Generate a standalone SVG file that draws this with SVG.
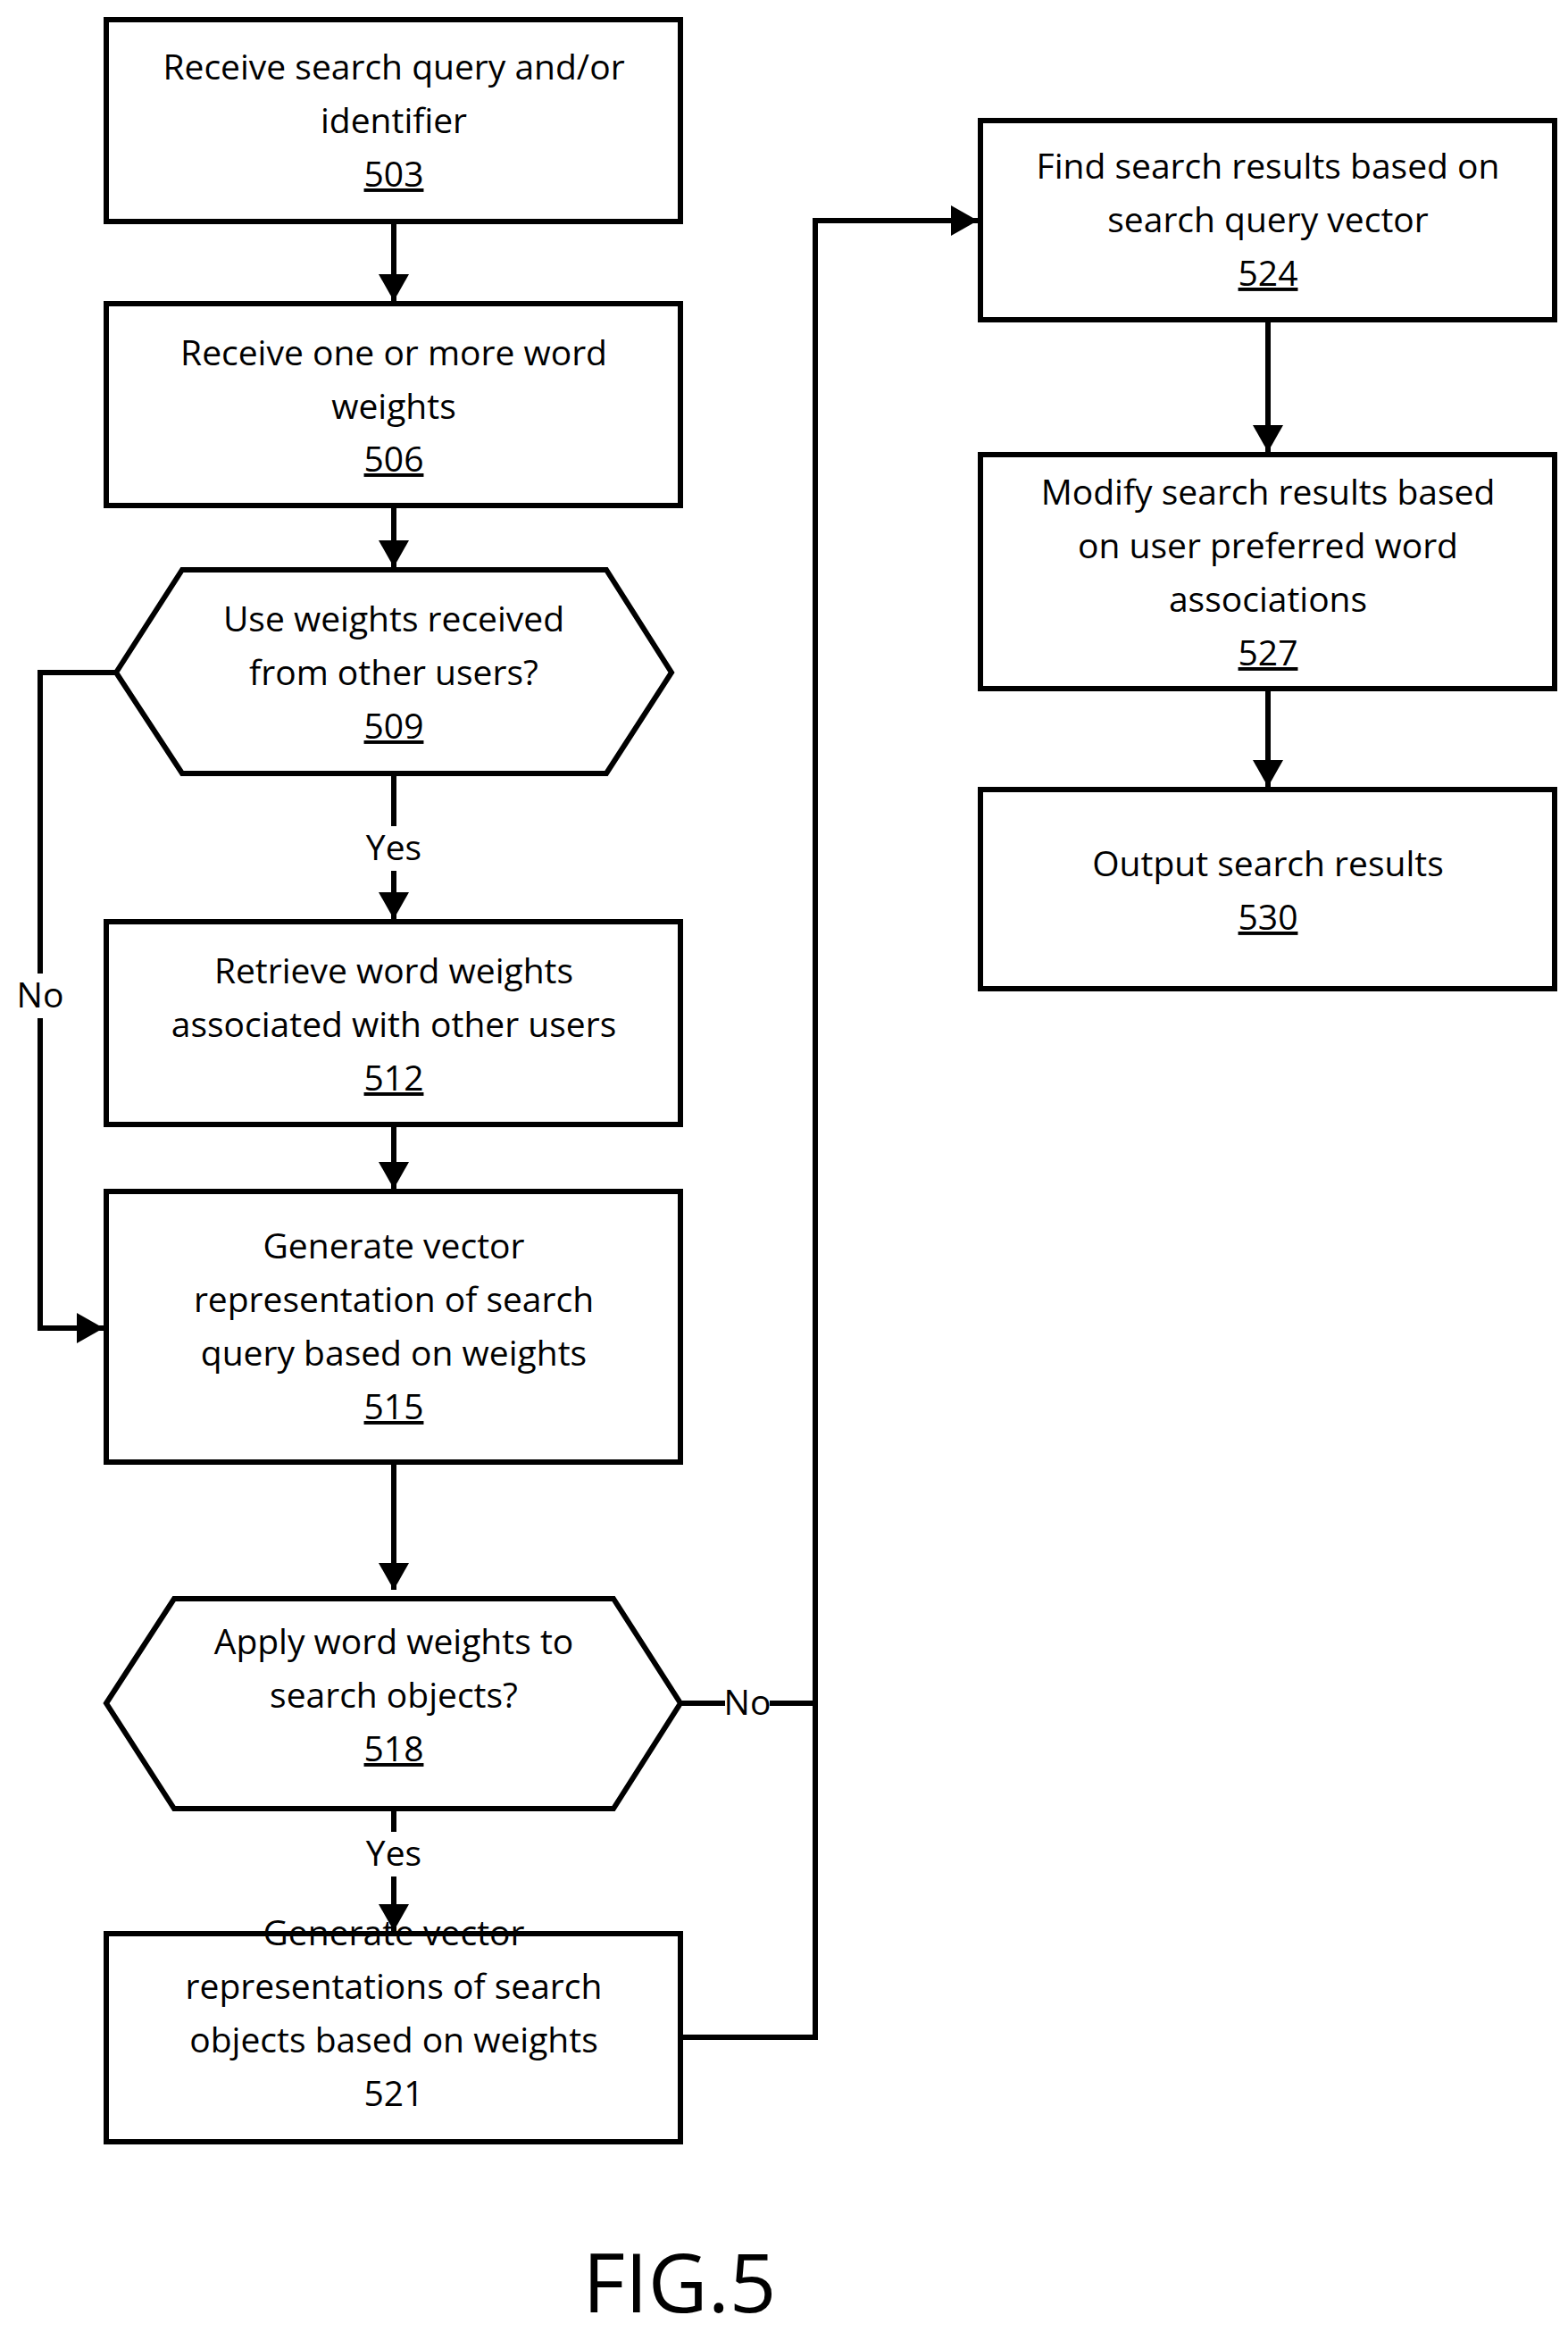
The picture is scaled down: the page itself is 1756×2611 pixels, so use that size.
<svg xmlns="http://www.w3.org/2000/svg" width="1756" height="2611" viewBox="0 0 1756 2611">
<style>
.n{fill:#fff;stroke:#000;stroke-width:6}
.c{fill:none;stroke:#000;stroke-width:6}
text{font-family:"Open Sans","Liberation Sans",sans-serif;font-size:39px;text-anchor:middle;fill:#000}
.u{text-decoration:underline}
.lb{fill:#fff;stroke:none}
</style>
<defs>
<marker id="a" markerUnits="userSpaceOnUse" markerWidth="34" markerHeight="34" viewBox="0 0 34 34" refX="30" refY="17" orient="auto">
<path d="M0,0 L30,17 L0,34 Z" fill="#000"/>
</marker>
</defs>
<rect width="1756" height="2611" fill="#fff"/>
<g id="connectors">
<line class="c" x1="441" y1="248" x2="441" y2="337" marker-end="url(#a)"/>
<line class="c" x1="441" y1="566" x2="441" y2="635" marker-end="url(#a)"/>
<line class="c" x1="441" y1="866" x2="441" y2="1029" marker-end="url(#a)"/>
<line class="c" x1="441" y1="1259" x2="441" y2="1331" marker-end="url(#a)"/>
<line class="c" x1="441" y1="1637" x2="441" y2="1780" marker-end="url(#a)"/>
<line class="c" x1="441" y1="2025" x2="441" y2="2162" marker-end="url(#a)"/>
<polyline class="c" points="130,753 45,753 45,1487 116,1487" marker-end="url(#a)"/>
<polyline class="c" points="762,1907 913,1907"/>
<polyline class="c" points="762,2281 913,2281 913,247 1095,247" marker-end="url(#a)"/>
<line class="c" x1="1420" y1="358" x2="1420" y2="506" marker-end="url(#a)"/>
<line class="c" x1="1420" y1="771" x2="1420" y2="881" marker-end="url(#a)"/>
<rect class="lb" x="400" y="925" width="82" height="50"/>
<text x="441" y="963">Yes</text>
<rect class="lb" x="400" y="2051" width="82" height="50"/>
<text x="441" y="2089">Yes</text>
<rect class="lb" x="20" y="1090" width="50" height="50"/>
<text x="45" y="1128">No</text>
<rect class="lb" x="812" y="1880" width="50" height="50"/>
<text x="837" y="1920">No</text>
</g>
<g id="n503"><rect class="n" x="119" y="22" width="643" height="226"/>
<text x="441" y="89">Receive search query and/or</text><text x="441" y="149">identifier</text><text class="u" x="441" y="209">503</text></g>
<g id="n506"><rect class="n" x="119" y="340" width="643" height="226"/>
<text x="441" y="409">Receive one or more word</text><text x="441" y="469">weights</text><text class="u" x="441" y="528">506</text></g>
<g id="n509"><polygon class="n" points="130,753 204,638 679,638 752,753 679,866 204,866"/>
<text x="441" y="707">Use weights received</text><text x="441" y="767">from other users?</text><text class="u" x="441" y="827">509</text></g>
<g id="n512"><rect class="n" x="119" y="1032" width="643" height="227"/>
<text x="441" y="1101">Retrieve word weights</text><text x="441" y="1161">associated with other users</text><text class="u" x="441" y="1221">512</text></g>
<g id="n515"><rect class="n" x="119" y="1334" width="643" height="303"/>
<text x="441" y="1409">Generate vector</text><text x="441" y="1469">representation of search</text><text x="441" y="1529">query based on weights</text><text class="u" x="441" y="1589">515</text></g>
<g id="n518"><polygon class="n" points="119,1907 195,1790 687,1790 762,1907 687,2025 195,2025"/>
<text x="441" y="1852">Apply word weights to</text><text x="441" y="1912">search objects?</text><text class="u" x="441" y="1972">518</text></g>
<g id="n521"><rect class="n" x="119" y="2165" width="643" height="233"/>
<text x="441" y="2178">Generate vector</text><text x="441" y="2238">representations of search</text><text x="441" y="2298">objects based on weights</text><text x="441" y="2358">521</text></g>
<g id="n524"><rect class="n" x="1098" y="135" width="643" height="223"/>
<text x="1420" y="200">Find search results based on</text><text x="1420" y="260">search query vector</text><text class="u" x="1420" y="320">524</text></g>
<g id="n527"><rect class="n" x="1098" y="509" width="643" height="262"/>
<text x="1420" y="565">Modify search results based</text><text x="1420" y="625">on user preferred word</text><text x="1420" y="685">associations</text><text class="u" x="1420" y="745">527</text></g>
<g id="n530"><rect class="n" x="1098" y="884" width="643" height="223"/>
<text x="1420" y="981">Output search results</text><text class="u" x="1420" y="1041">530</text></g>
<text x="761" y="2589" style="font-size:92px">FIG.5</text>
</svg>
